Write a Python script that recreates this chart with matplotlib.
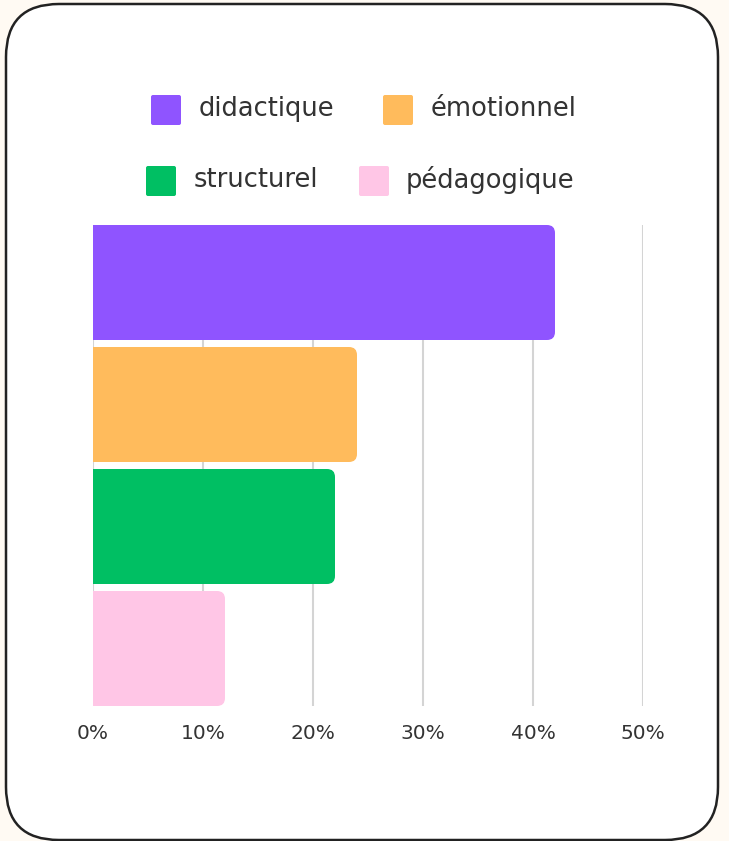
import matplotlib
matplotlib.use("Agg")
import matplotlib.pyplot as plt
from matplotlib.patches import FancyBboxPatch, PathPatch
from matplotlib.path import Path

categories = ["didactique", "émotionnel", "structurel", "pédagogique"]
values = [42, 24, 22, 12]
colors = ["#8F54FF", "#FFBB5C", "#00BF63", "#FFC6E6"]
xticks = [0, 10, 20, 30, 40, 50]
xticklabels = ["0%", "10%", "20%", "30%", "40%", "50%"]

FONT = ["DejaVu Sans"]
plt.rcParams["font.family"] = FONT

W, H = 729, 841
fig = plt.figure(figsize=(W / 100, H / 100), dpi=100)
fig.patch.set_facecolor("#FFFAF3")

# background pixel axes for card + legend
bg = fig.add_axes([0, 0, 1, 1])
bg.set_xlim(0, W)
bg.set_ylim(H, 0)
bg.axis("off")
card = FancyBboxPatch((6, 4), 712, 836, boxstyle="round,pad=0,rounding_size=53",
                      facecolor="white", edgecolor="#222222", linewidth=1.8)
bg.add_patch(card)

# legend (manual, two centred rows)
legend_pos = [(151, 110, 199), (383, 110, 431), (146, 181, 194), (359, 181, 406)]
for (sx, cy, tx), lab, c in zip(legend_pos, categories, colors):
    bg.add_patch(FancyBboxPatch((sx, cy - 15), 30, 30, boxstyle="round,pad=0,rounding_size=2",
                                facecolor=c, edgecolor="none"))
    bg.text(tx, cy - 1, lab, fontsize=18.5, color="#333333", va="center", ha="left")

# bar chart axes
left = 93 / W
bottom = (H - 706) / H
ax = fig.add_axes([left, bottom, 550 / W, 481 / H])
ax.set_facecolor("none")
ax.set_xlim(0, 50)
px_x = 550 / 50          # pixels per x unit
px_y = 122.0             # pixels per category band
half = 481 / px_y / 2
ax.set_ylim(1.5 + half, 1.5 - half)
for s in ax.spines.values():
    s.set_visible(False)
ax.set_yticks([])
ax.set_xticks(xticks)
ax.set_xticklabels(xticklabels, fontsize=14.5, color="#333333")
ax.tick_params(axis="x", length=0, pad=13)
for xv in xticks:
    ax.axvline(xv, color="#D4D4D4", linewidth=1.5, zorder=0)

bh = 115 / px_y
rx = 8 / px_x
ry = 8 / px_y
for i, (v, c) in enumerate(zip(values, colors)):
    y0, y1 = i - bh / 2, i + bh / 2
    verts = [(0, y0), (v - rx, y0), (v, y0), (v, y0 + ry),
             (v, y1 - ry), (v, y1), (v - rx, y1), (0, y1), (0, y0)]
    codes = [Path.MOVETO, Path.LINETO, Path.CURVE3, Path.CURVE3,
             Path.LINETO, Path.CURVE3, Path.CURVE3, Path.LINETO, Path.CLOSEPOLY]
    ax.add_patch(PathPatch(Path(verts, codes), facecolor=c, edgecolor="none", zorder=2))

fig.savefig("out.png", dpi=100, facecolor=fig.get_facecolor())
